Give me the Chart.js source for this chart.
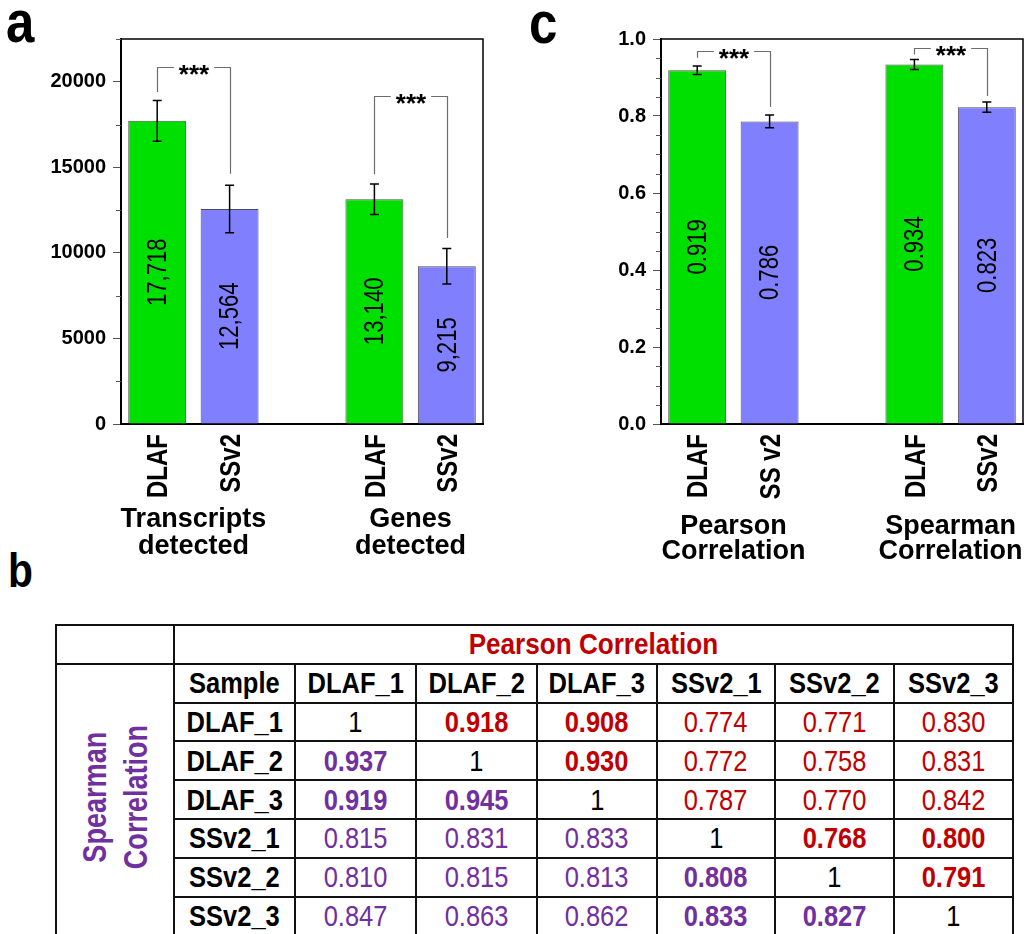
<!DOCTYPE html>
<html>
<head>
<meta charset="utf-8">
<script src="https://cdn.jsdelivr.net/npm/chart.js@4.4.0/dist/chart.umd.min.js"></script>
<style>
body { margin: 0; background: #fff; }
#page { position: relative; width: 1025px; height: 934px; overflow: hidden; font-family: "Liberation Sans", Arial, sans-serif; }
.panel { position: absolute; font-weight: bold; color: #000; transform: scaleX(0.85); transform-origin: left top; }
#wrapA { position: absolute; left: 0; top: 0; }
#wrapC { position: absolute; left: 520px; top: 0; }
#corr { position: absolute; left: 55px; top: 624px; border-collapse: collapse; table-layout: fixed; }
#corr td { border: 2px solid #111; padding: 0; text-align: center; vertical-align: middle; white-space: nowrap;
  font-size: 30px; line-height: 1; color: #000; overflow: visible; }
#corr td span { display: inline-block; transform: scaleX(0.85); }
#corr tr { height: 38.8px; }
#corr td.hd { font-weight: bold; }
#corr td.pear { font-weight: bold; font-size: 30px; color: #c00000; }
#corr td.pear span { transform: scaleX(0.87); }
#corr td.spear div { display: inline-block; writing-mode: vertical-rl; transform: rotate(180deg) scaleY(0.82);
  font-weight: bold; font-size: 33px; line-height: 41px; color: #7030a0; }
</style>
</head>
<body>
<div id="page">
  <div class="panel" style="left:6px; top:-8px; font-size:60px; line-height:60px;">a</div>
  <div class="panel" style="left:529px; top:-7px; font-size:60px; line-height:60px;">c</div>
  <div class="panel" style="left:8px; top:547px; font-size:48px; line-height:48px;">b</div>
  <div id="wrapA"><canvas id="chartA" width="505" height="580"></canvas></div>
  <div id="wrapC"><canvas id="chartC" width="505" height="580"></canvas></div>
</div>
<script>
// panel a: transcripts / genes detected
const catsA = ['DLAF', 'SSv2', '', 'DLAF', 'SSv2'];
const valuesA = [17718, 12564, null, 13140, 9215];
const errorsA = [1190, 1390, null, 890, 1040];
const textA = ['17,718', '12,564', '', '13,140', '9,215'];
const ticksA = [0, 5000, 10000, 15000, 20000];
const groupLinesA = [['Transcripts', 'detected'], ['Genes', 'detected']];
const groupBarsA = [[0, 1], [3, 4]];
const bracketTopA = [20850, 19190];
const bracketLeftA = [19400, 14590];
const bracketRightA = [14630, 10870];

// panel c: pearson / spearman
const catsC = ['DLAF', 'SS v2', '', 'DLAF', 'SSv2'];
const valuesC = [0.919, 0.786, null, 0.934, 0.823];
const errorsC = [0.011, 0.0165, null, 0.013, 0.0135];
const textC = ['0.919', '0.786', '', '0.934', '0.823'];
const ticksC = [0, 0.2, 0.4, 0.6, 0.8, 1.0];
const groupLinesC = [['Pearson', 'Correlation'], ['Spearman', 'Correlation']];
const groupBarsC = [[0, 1], [3, 4]];
const bracketTopC = [0.970, 0.977];
const bracketLeftC = [0.951, 0.960];
const bracketRightC = [0.8235, 0.852];

// panel b: correlation table (upper = Pearson, lower = Spearman)
const samples = ['DLAF_1', 'DLAF_2', 'DLAF_3', 'SSv2_1', 'SSv2_2', 'SSv2_3'];
const corr = [
  ['1', '0.918', '0.908', '0.774', '0.771', '0.830'],
  ['0.937', '1', '0.930', '0.772', '0.758', '0.831'],
  ['0.919', '0.945', '1', '0.787', '0.770', '0.842'],
  ['0.815', '0.831', '0.833', '1', '0.768', '0.800'],
  ['0.810', '0.815', '0.813', '0.808', '1', '0.791'],
  ['0.847', '0.863', '0.862', '0.833', '0.827', '1']
];

const GREEN = '#00e000';
const BLUE = '#8080ff';
const barColors = [GREEN, BLUE, '#fff', GREEN, BLUE];
const FONT = '"Liberation Sans", Arial, sans-serif';

// dibuja marco, ticks menores, etiquetas x, barras de error, valores, corchetes y grupos
function makeExtras(cfg) {
  return {
    id: 'extras',
    afterDatasetsDraw(chart) {
      const ctx = chart.ctx;
      const area = chart.chartArea;
      const ys = chart.scales.y;
      const xs = chart.scales.x;
      const bars = chart.getDatasetMeta(0).data;
      ctx.save();

      // marco superior y derecho
      ctx.strokeStyle = '#000';
      ctx.lineWidth = 1.5;
      ctx.beginPath();
      ctx.moveTo(area.left, area.top);
      ctx.lineTo(area.right, area.top);
      ctx.lineTo(area.right, area.bottom);
      ctx.stroke();

      // ticks menores
      ctx.strokeStyle = '#555';
      ctx.lineWidth = 1;
      for (let k = 1; k * cfg.minor <= ys.max + 1e-9; k++) {
        const v = k * cfg.minor;
        const r = v / cfg.major;
        if (Math.abs(r - Math.round(r)) < 1e-6) continue;
        const py = Math.round(ys.getPixelForValue(v)) + 0.5;
        ctx.beginPath();
        ctx.moveTo(area.left - 5, py);
        ctx.lineTo(area.left, py);
        ctx.stroke();
      }

      // etiquetas del eje x (texto condensado, girado)
      ctx.fillStyle = '#000';
      ctx.font = 'bold 30px ' + FONT;
      ctx.textAlign = 'right';
      ctx.textBaseline = 'middle';
      xs.ticks.forEach((t, i) => {
        const label = xs.getLabelForValue(t.value);
        if (!label) return;
        ctx.save();
        ctx.translate(xs.getPixelForTick(i) + 2, area.bottom + 10);
        ctx.rotate(-Math.PI / 2);
        ctx.scale(0.8, 1);
        ctx.fillText(label, 0, 0);
        ctx.restore();
      });

      // barras de error
      ctx.strokeStyle = '#000';
      ctx.lineWidth = 1.5;
      bars.forEach((bar, i) => {
        const v = cfg.values[i];
        if (v == null) return;
        const e = cfg.errors[i];
        const t = ys.getPixelForValue(v + e);
        const b = ys.getPixelForValue(v - e);
        ctx.beginPath();
        ctx.moveTo(bar.x, t); ctx.lineTo(bar.x, b);
        ctx.moveTo(bar.x - 4.5, t); ctx.lineTo(bar.x + 4.5, t);
        ctx.moveTo(bar.x - 4.5, b); ctx.lineTo(bar.x + 4.5, b);
        ctx.stroke();
      });

      // valores dentro de las barras
      ctx.font = '28px ' + FONT;
      ctx.textAlign = 'center';
      bars.forEach((bar, i) => {
        if (cfg.values[i] == null) return;
        ctx.save();
        ctx.translate(bar.x + 1, (bar.y + bar.base) / 2);
        ctx.rotate(-Math.PI / 2);
        ctx.scale(0.79, 1);
        ctx.fillText(cfg.texts[i], 0, 0);
        ctx.restore();
      });

      // corchetes de significancia
      ctx.font = 'bold 26px ' + FONT;
      ctx.textBaseline = 'alphabetic';
      const starW = ctx.measureText('***').width;
      cfg.groupBars.forEach((pair, g) => {
        const xl = Math.round(bars[pair[0]].x) + 0.5;
        const xr = Math.round(bars[pair[1]].x) + 0.5;
        const xm = (xl + xr) / 2;
        const yt = Math.round(ys.getPixelForValue(cfg.bTop[g])) + 0.5;
        const gap = starW / 2 + 5;
        ctx.strokeStyle = '#6e6e6e';
        ctx.lineWidth = 1.2;
        ctx.beginPath();
        ctx.moveTo(xl, ys.getPixelForValue(cfg.bLeft[g]));
        ctx.lineTo(xl, yt);
        ctx.lineTo(xm - gap, yt);
        ctx.moveTo(xm + gap, yt);
        ctx.lineTo(xr, yt);
        ctx.lineTo(xr, ys.getPixelForValue(cfg.bRight[g]));
        ctx.stroke();
        ctx.fillText('***', xm, yt + 15);
      });

      // etiquetas de grupo bajo el eje
      ctx.font = 'bold 27px ' + FONT;
      cfg.groupBars.forEach((pair, g) => {
        const xm = (bars[pair[0]].x + bars[pair[1]].x) / 2;
        cfg.groupLines[g].forEach((line, j) => {
          ctx.fillText(line, xm, area.bottom + cfg.labelOffset + j * cfg.lineGap);
        });
      });
      ctx.restore();
    }
  };
}

function makeChart(id, cfg) {
  return new Chart(document.getElementById(id), {
    type: 'bar',
    data: {
      labels: cfg.cats,
      datasets: [{
        data: cfg.values,
        backgroundColor: barColors,
        borderColor: '#4d4d4d',
        borderWidth: 1,
        barPercentage: 0.8,
        categoryPercentage: 1
      }]
    },
    options: {
      responsive: false,
      animation: false,
      layout: { padding: { top: 39, right: cfg.padRight, left: 0, bottom: 0 } },
      plugins: { legend: { display: false }, tooltip: { enabled: false } },
      scales: {
        x: {
          grid: { display: false, drawTicks: false },
          border: { display: true, color: '#000', width: 2 },
          ticks: { display: false, autoSkip: false },
          afterFit: s => { s.height = 156; }
        },
        y: {
          min: 0,
          max: cfg.max,
          grid: { drawOnChartArea: false, drawTicks: true, tickLength: 8, tickColor: '#555', tickWidth: 1 },
          border: { display: true, color: '#000', width: 2 },
          afterBuildTicks: s => { s.ticks = cfg.tickVals.map(v => ({ value: v })); },
          ticks: {
            color: '#000',
            padding: 7,
            font: { family: FONT, weight: 'bold', size: 20 },
            callback: cfg.fmt
          },
          afterFit: s => { s.width = cfg.yWidth; }
        }
      }
    },
    plugins: [makeExtras(cfg)]
  });
}

makeChart('chartA', {
  cats: catsA, values: valuesA, errors: errorsA, texts: textA, tickVals: ticksA,
  groupLines: groupLinesA, groupBars: groupBarsA,
  bTop: bracketTopA, bLeft: bracketLeftA, bRight: bracketRightA,
  max: 22500, major: 5000, minor: 2500,
  fmt: v => String(v),
  yWidth: 121, padRight: 22, labelOffset: 103, lineGap: 27
});

makeChart('chartC', {
  cats: catsC, values: valuesC, errors: errorsC, texts: textC, tickVals: ticksC,
  groupLines: groupLinesC, groupBars: groupBarsC,
  bTop: bracketTopC, bLeft: bracketLeftC, bRight: bracketRightC,
  max: 1, major: 0.2, minor: 0.05,
  fmt: v => v.toFixed(1),
  yWidth: 141, padRight: 2, labelOffset: 110, lineGap: 25
});

// tabla de correlaciones
function groupOf(name) { return name.split('_')[0]; }
function cell(text, cls, style) {
  return '<td' + (cls ? ' class="' + cls + '"' : '') + (style ? ' style="' + style + '"' : '') + '><span>' + text + '</span></td>';
}
const colWidths = [118, 121, 121, 121, 120, 118, 119, 119];
let html = '<colgroup>' + colWidths.map(w => '<col style="width:' + w + 'px">').join('') + '</colgroup>';
html += '<tr><td></td><td colspan="7" class="pear"><span>Pearson Correlation</span></td></tr>';
html += '<tr><td rowspan="7" class="spear"><div>Spearman<br>Correlation</div></td>' + cell('Sample', 'hd') +
  samples.map(s => cell(s, 'hd')).join('') + '</tr>';
corr.forEach((row, i) => {
  html += '<tr>' + cell(samples[i], 'hd');
  row.forEach((val, j) => {
    let color = '#000';
    if (j > i) color = '#c00000';
    if (j < i) color = '#7030a0';
    const bold = i !== j && groupOf(samples[i]) === groupOf(samples[j]);
    html += cell(val, '', 'color:' + color + ';font-weight:' + (bold ? 'bold' : 'normal'));
  });
  html += '</tr>';
});
const table = document.createElement('table');
table.id = 'corr';
table.innerHTML = html;
document.getElementById('page').appendChild(table);
</script>
</body>
</html>
